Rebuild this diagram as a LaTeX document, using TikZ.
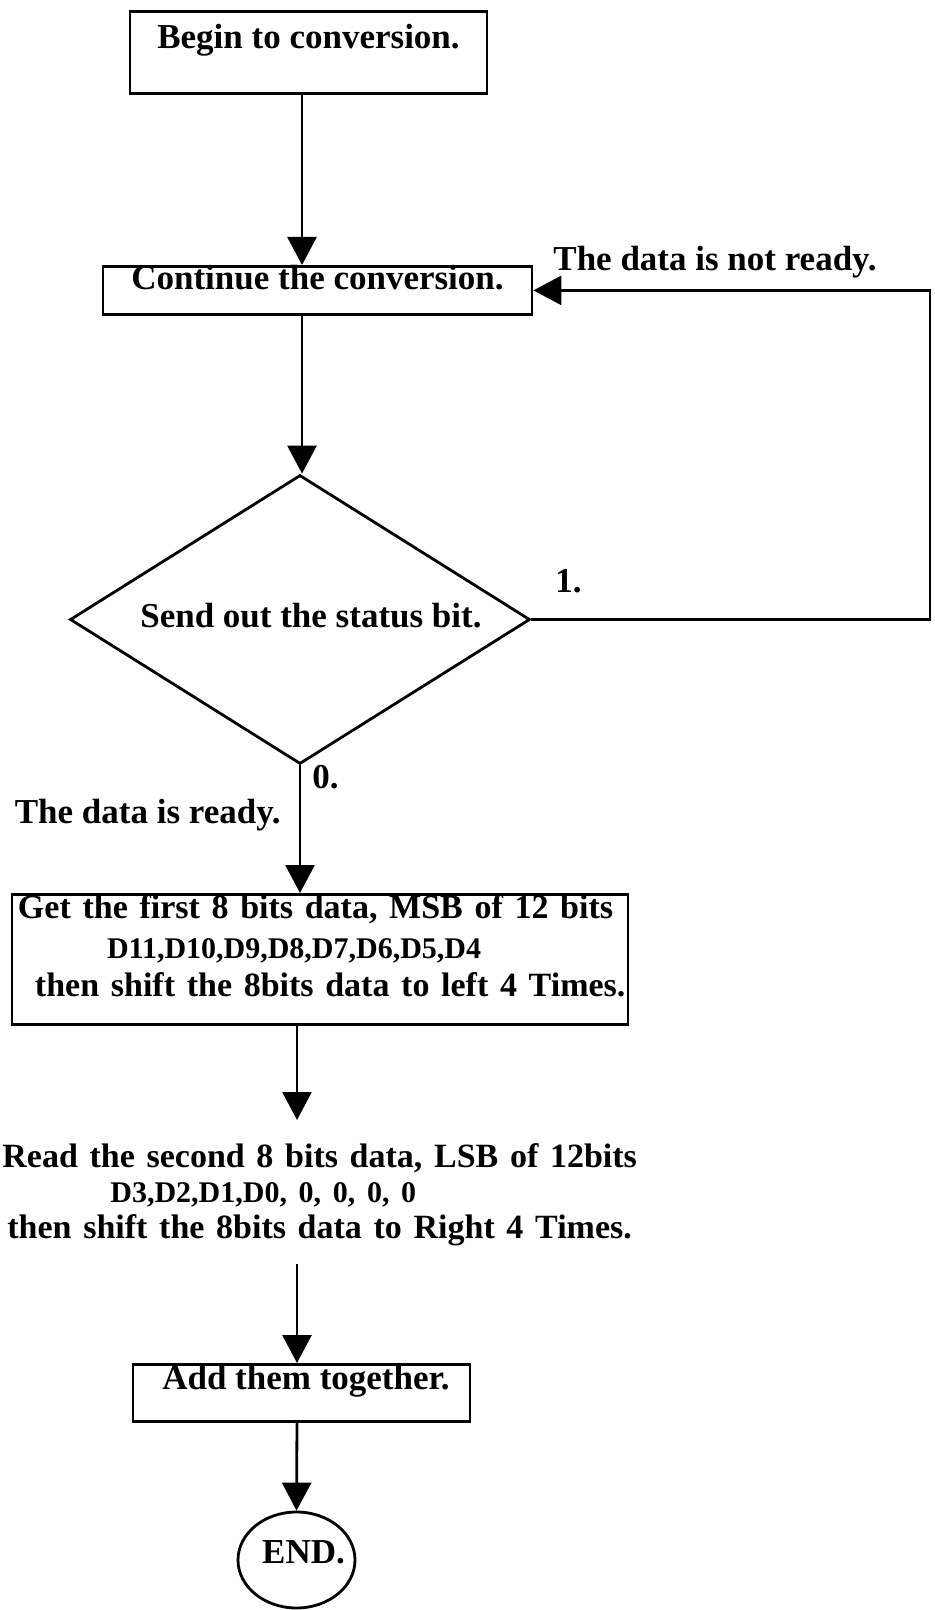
\documentclass[tikz,border=0pt]{standalone}
\usepackage{fontspec}
\setmainfont{Liberation Serif}
\usetikzlibrary{shapes.geometric,arrows.meta}
\newcommand{\ffont}{\fontsize{17.5pt}{19pt}\selectfont\bfseries}
\newcommand{\fmid}{\fontsize{17pt}{19pt}\selectfont}
\newcommand{\fsml}{\fontsize{15pt}{19pt}\selectfont}
\begin{document}
\begin{tikzpicture}[x=0.5pt,y=-0.5pt,
  every node/.style={font=\ffont},
  box/.style={draw,line width=1.4pt,inner sep=0pt},
  arr/.style={line width=1.4pt,-{Triangle[width=14.5pt,length=14pt]}},
  lbl/.style={inner sep=0pt}]
\useasboundingbox (0,0) rectangle (935,1610);
\coordinate (axA) at (302,0);
\coordinate (axC) at (297,0);
\coordinate (fb) at (930,0);
\node[box,anchor=north,minimum width=178.5pt,text height=18.5pt,text depth=22.5pt] (begin) at (308.5,10) {Begin to conversion.};
\node[box,anchor=north,minimum width=214.5pt,text height=11.5pt,text depth=12.5pt] (cont) at (317.5,265) {Continue the conversion.};
\node[box,shape=diamond,aspect=1.6,minimum width=230pt,minimum height=144.5pt,text height=12pt,text depth=4pt] (dia) at (300,619.5) {\hspace*{11pt}Send out the status bit.};
\node[box,anchor=north,text width=302pt,align=left,inner xsep=3pt,text height=12pt,text depth=53pt] (get) at (320,893) {\mbox{\fmid Get the first 8 bits data, MSB of 12 bits}\\[1pt]\mbox{\hspace*{44.5pt}\fsml D11,D10,D9,D8,D7,D6,D5,D4}\\\mbox{\hspace*{8.5pt}\fmid then shift the 8bits data to left 4 Times.}};
\node[lbl,anchor=north west,text width=320pt,align=left,text height=23.5pt,text depth=48pt] (read) at (2,1120) {\mbox{\fmid Read the second 8 bits data, LSB of 12bits}\\[-1.5pt]\mbox{\hspace*{54pt}\fsml D3,D2,D1,D0, 0, 0, 0, 0}\\[-1pt]\mbox{\hspace*{2.5pt}\fmid then shift the 8bits data to Right 4 Times.}};
\node[box,anchor=north,minimum width=168.5pt,text height=12.5pt,text depth=16pt] (add) at (301.5,1363) {\hspace*{4.5pt}Add them together.};
\node[box,shape=ellipse,minimum width=58.5pt,minimum height=48pt,text height=12pt,text depth=9pt] (end) at (296.5,1560) {\makebox[0pt]{\hspace*{7pt}END.}};
\node[lbl,anchor=base west] (nr) at (553,271) {The data is not ready.};
\node[lbl,anchor=base west] (one) at (555,592) {1.};
\node[lbl,anchor=base west] (zero) at (312,788) {0.};
\node[lbl,anchor=base east] (rdy) at (281,823) {The data is ready.};
\draw[arr] (begin.south -| axA) -- (cont.north -| axA);
\draw[arr] (cont.south -| axA) -- (dia.north -| axA);
\draw[arr] (dia.south) -- (get.north -| dia.south);
\draw[arr] (get.south -| axC) -- (read.north -| axC);
\draw[arr] (read.south -| axC) -- (add.north -| axC);
\draw[arr] (add.south -| axC) -- (end.north);
\draw[arr] (dia.east) -- (dia.east -| fb) |- (cont.east);
\end{tikzpicture}
\end{document}
